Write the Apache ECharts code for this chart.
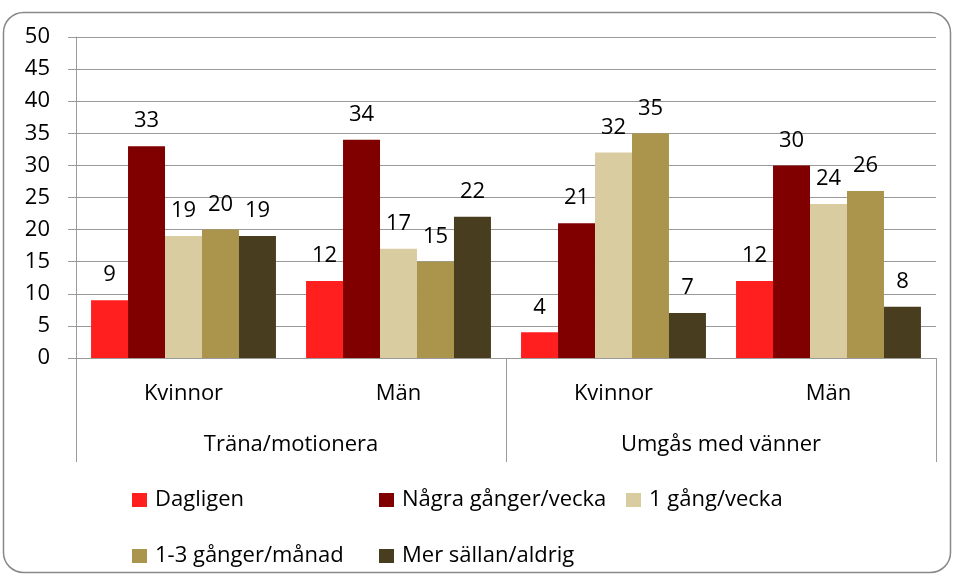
<!DOCTYPE html>
<html>
<head>
<meta charset="utf-8">
<script src="https://cdn.jsdelivr.net/npm/echarts@6/dist/echarts.min.js"></script>
<style>
  html, body { margin: 0; padding: 0; background: #fff; }
  #chart { width: 954px; height: 576px; }
</style>
</head>
<body>
<div id="chart"></div>
<script>
const categories = ['Kvinnor', 'Män', 'Kvinnor', 'Män'];
const groups = ['Träna/motionera', 'Umgås med vänner'];
const seriesNames = ['Dagligen', 'Några gånger/vecka', '1 gång/vecka', '1-3 gånger/månad', 'Mer sällan/aldrig'];
const dagligen = [9, 12, 4, 12];
const nagraGanger = [33, 34, 21, 30];
const enGang = [19, 17, 32, 24];
const enTreGanger = [20, 15, 35, 26];
const merSallan = [19, 22, 7, 8];
const colors = ['#FF1F1F', '#800000', '#D9CCA1', '#AB944C', '#483D1F'];

const FONT = 'Open Sans';
const FS = 22;

const chart = echarts.init(document.getElementById('chart'));

const values = [dagligen, nagraGanger, enGang, enTreGanger, merSallan];
const series = seriesNames.map((name, i) => ({
    name,
    type: 'bar',
    data: values[i],
    itemStyle: { color: colors[i] },
    barGap: '0%',
    barCategoryGap: '14%',
    label: {
        show: true,
        position: 'top',
        distance: 14,
        color: '#000',
        fontFamily: FONT,
        fontSize: FS,
    },
}));

// legend items placed like the original two-row legend
const legendPos = [
    [127, 484], [374, 484], [621, 484],
    [127, 540], [374, 540],
];
const legends = seriesNames.map((name, i) => ({
    data: [name],
    left: legendPos[i][0],
    top: legendPos[i][1],
    itemWidth: 15,
    itemHeight: 14,
    itemGap: 0,
    icon: 'rect',
    textStyle: { fontFamily: FONT, fontSize: FS, color: '#000', padding: [0, 0, 0, 3] },
}));

const option = {
    animation: false,
    legend: legends,
    grid: { left: 76, right: 18, top: 37, bottom: 218 },
    xAxis: [
        {
            type: 'category',
            data: categories,
            axisLine: { lineStyle: { color: '#9A9A9A', width: 1 } },
            axisTick: { show: false },
            axisLabel: { color: '#000', fontFamily: FONT, fontSize: FS, margin: 25 },
        },
        {
            type: 'category',
            data: groups,
            position: 'bottom',
            axisLine: { show: false },
            axisTick: { show: true, length: 104, lineStyle: { color: '#9A9A9A' } },
            axisLabel: { color: '#000', fontFamily: FONT, fontSize: FS, margin: 76 },
        },
    ],
    yAxis: {
        type: 'value',
        min: 0,
        max: 50,
        interval: 5,
        axisLine: { show: true, lineStyle: { color: '#9A9A9A' } },
        axisTick: { show: true, length: 8, lineStyle: { color: '#9A9A9A' } },
        axisLabel: { color: '#000', fontFamily: FONT, fontSize: FS, margin: 26 },
        splitLine: { lineStyle: { color: '#9A9A9A', width: 1 } },
    },
    series,
    graphic: [{
        type: 'rect',
        shape: { x: 3.5, y: 12.5, width: 947, height: 560, r: 20 },
        style: { fill: 'none', stroke: '#888', lineWidth: 1.5 },
        silent: true,
    }],
};

chart.setOption(option);
</script>
</body>
</html>
